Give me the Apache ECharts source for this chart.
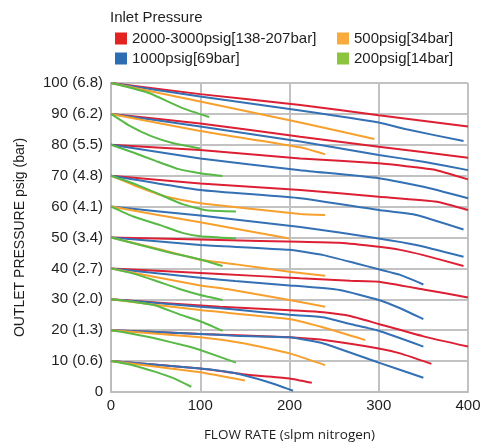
<!DOCTYPE html>
<html>
<head>
<meta charset="utf-8">
<script src="https://cdn.jsdelivr.net/npm/echarts@6/dist/echarts.min.js"></script>
<style>
  html, body { margin: 0; padding: 0; background: #fff; }
  #chart { width: 489px; height: 443px; }
</style>
</head>
<body>
<div id="chart"></div>
<script>
// Regulator flow curves: outlet pressure (psig) vs. flow rate (slpm N2),
// one curve per outlet set point, grouped by inlet pressure.

const seriesNames = ['2000-3000psig[138-207bar]', '1000psig[69bar]', '500psig[34bar]', '200psig[14bar]'];
const yTickLabels = ['0', '10 (0.6)', '20 (1.3)', '30 (2.0)', '40 (2.7)', '50 (3.4)',
                     '60 (4.1)', '70 (4.8)', '80 (5.5)', '90 (6.2)', '100 (6.8)'];
const xTicks = [0, 100, 200, 300, 400];

// Inlet 2000-3000 psig
const inlet2000 = [
  [[0,100],[100,96.4],[212,92.9],[300,89.6],[400,85.9]],
  [[0,90],[100,86.9],[212,82.6],[300,79.4],[400,75.8]],
  [[0,80],[100,78.3],[212,75.6],[300,74],[361,72],[400,68.8]],
  [[0,70],[100,67.5],[212,65.4],[300,63.2],[365,61.6],[400,58.9]],
  [[0,50],[122,49.2],[212,48.6],[256,48.3],[300,47],[324,46],[350,44.3],[395,40.8]],
  [[0,40],[122,38.2],[212,36.8],[268,36],[300,35.7],[350,33.2],[400,30.6]],
  [[0,30],[122,27.6],[212,26.3],[238,25.8],[268,24.6],[300,22],[350,18],[400,14.7]],
  [[0,20],[100,18.8],[200,17.7],[245,16.6],[300,14.1],[324,12.5],[359,9.1]],
  [[0,10],[100,7.6],[156,5.5],[200,4.4],[225,3]]
];

// Inlet 1000 psig
const inlet1000 = [
  [[0,100],[100,95.6],[212,91.1],[300,87.2],[331,85],[395,81.2]],
  [[0,90],[100,85.9],[212,81.1],[300,76.7],[350,74.5],[400,71.8]],
  [[0,80],[100,75.6],[212,71.8],[300,69.2],[350,66.4],[400,62.7]],
  [[0,70],[100,65.4],[212,62.7],[300,58.9],[342,57.3],[395,52.6]],
  [[0,60],[100,57.1],[212,53.4],[300,49.7],[342,47.6],[395,43.8]],
  [[0,50],[100,47.6],[200,46],[238,44.3],[275,41.6],[300,39.7],[324,37.9],[350,34.8]],
  [[0,40],[100,37],[139,35.9],[200,34.5],[256,33],[300,29.8],[324,27.1],[350,23.6]],
  [[0,30],[100,27.6],[139,26.7],[200,25],[238,24.2],[268,22],[300,19.8],[350,14.7]],
  [[0,20],[100,18.8],[139,18.2],[200,17.7],[238,15.7],[300,9.5],[350,4.6]],
  [[0,10],[100,7.6],[137,6.2],[175,3.3],[204,0.4]]
];

// Inlet 500 psig
const inlet500 = [
  [[0,100],[100,94],[212,87.2],[295,81.9]],
  [[0,90],[100,84.5],[212,79.2],[240,76.9]],
  [[0,70],[25,67],[62,63.2],[100,61.1],[212,57.6],[240,57.3]],
  [[0,60],[100,54.9],[200,49.7]],
  [[0,50],[50,46.5],[100,42.8],[140,41.3],[200,38.9],[240,37.6]],
  [[0,40],[100,34.5],[130,33.3],[200,29.8],[240,27.6]],
  [[0,30],[100,26.5],[200,23.6],[245,20.3],[285,16.8]],
  [[0,20],[100,17.7],[150,15.7],[200,12.5],[240,8.7]],
  [[0,10],[100,6.4],[150,3.7]]
];

// Inlet 200 psig
const inlet200 = [
  [[0,100],[25,98.2],[44,96.6],[81,91.8],[110,89]],
  [[0,90],[20,86.3],[45,82.8],[70,80.5],[100,78.8]],
  [[0,80],[25,77.5],[50,74.8],[75,72.2],[100,70.8],[125,69.9]],
  [[0,70],[25,67.5],[50,64.5],[80,60.8],[107,58.8],[140,58.4]],
  [[0,60],[25,56.8],[55,54],[80,51.5],[100,50.4],[140,49.7]],
  [[0,50],[62,45.4],[100,42.9],[125,40.8]],
  [[0,40],[25,38.3],[50,36],[75,33.5],[100,31.4],[125,29.8]],
  [[0,30],[25,29.2],[50,28],[75,25.3],[100,22.9],[125,19.8]],
  [[0,20],[25,18.8],[49,17.4],[87,14.7],[100,13.6],[140,9.5]],
  [[0,10],[25,8.6],[49,6.6],[70,4.5],[90,1.7]]
];

const groups = [inlet2000, inlet1000, inlet500, inlet200];
const lineColors = ['#dd1f34', '#3470b4', '#f7a02e', '#58b947'];
const keyColors = ['#e3231f', '#2f6db3', '#f9aa3c', '#8cc43f'];

const FONT = '"Liberation Sans", Arial, sans-serif';
const TEXT = '#1e1e1e';

const series = [];
groups.forEach((curves, gi) => {
  curves.forEach(pts => {
    series.push({
      name: seriesNames[gi],
      type: 'line',
      data: pts,
      showSymbol: false,
      smooth: 0.15,
      lineStyle: { color: lineColors[gi], width: 2 },
      itemStyle: { color: keyColors[gi] },
      emphasis: { disabled: true },
      z: 2 + gi
    });
  });
});

const legendText = { fontFamily: FONT, fontSize: 15, color: TEXT, lineHeight: 15 };
const legendBase = {
  orient: 'vertical',
  top: 26,
  itemWidth: 12,
  itemHeight: 12,
  itemGap: 5,
  icon: 'rect',
  selectedMode: false,
  textStyle: legendText
};

const chart = echarts.init(document.getElementById('chart'), null, { renderer: 'canvas' });
chart.setOption({
  animation: false,
  title: {
    text: 'Inlet Pressure',
    left: 105,
    top: 5,
    textStyle: { fontFamily: FONT, fontSize: 15, fontWeight: 'normal', color: TEXT }
  },
  legend: [
    Object.assign({}, legendBase, {
      left: 110,
      data: [seriesNames[0], seriesNames[1]].map((n, i) => ({ name: n, itemStyle: { color: keyColors[i] } }))
    }),
    Object.assign({}, legendBase, {
      left: 332,
      data: [seriesNames[2], seriesNames[3]].map((n, i) => ({ name: n, itemStyle: { color: keyColors[i + 2] } }))
    })
  ],
  grid: { left: 111, right: 21, top: 83, bottom: 51, containLabel: false, outerBoundsMode: 'none' },
  xAxis: {
    type: 'value',
    min: xTicks[0],
    max: xTicks[xTicks.length - 1],
    interval: 100,
    name: 'FLOW RATE (slpm nitrogen)',
    nameLocation: 'middle',
    nameGap: 36,
    nameTextStyle: { fontFamily: '"Open Sans", sans-serif', fontSize: 13.5, color: TEXT },
    axisLine: { show: true, lineStyle: { color: '#bdbdbd', width: 2 } },
    axisTick: { show: false },
    axisLabel: { fontFamily: FONT, fontSize: 15, color: TEXT, margin: 6 },
    splitLine: { show: true, lineStyle: { color: '#c2c2c2', width: 2 } }
  },
  yAxis: {
    type: 'value',
    min: 0,
    max: 100,
    interval: 10,
    name: 'OUTLET PRESSURE psig (bar)',
    nameLocation: 'middle',
    nameGap: 84,
    nameTextStyle: { fontFamily: FONT, fontSize: 14, color: TEXT },
    axisLine: { show: true, lineStyle: { color: '#bdbdbd', width: 2 } },
    axisTick: { show: false },
    axisLabel: {
      fontFamily: FONT, fontSize: 15, color: TEXT, margin: 8,
      formatter: v => yTickLabels[Math.round(v / 10)]
    },
    splitLine: { show: true, lineStyle: { color: '#c2c2c2', width: 2 } }
  },
  series: series
});
</script>
</body>
</html>
